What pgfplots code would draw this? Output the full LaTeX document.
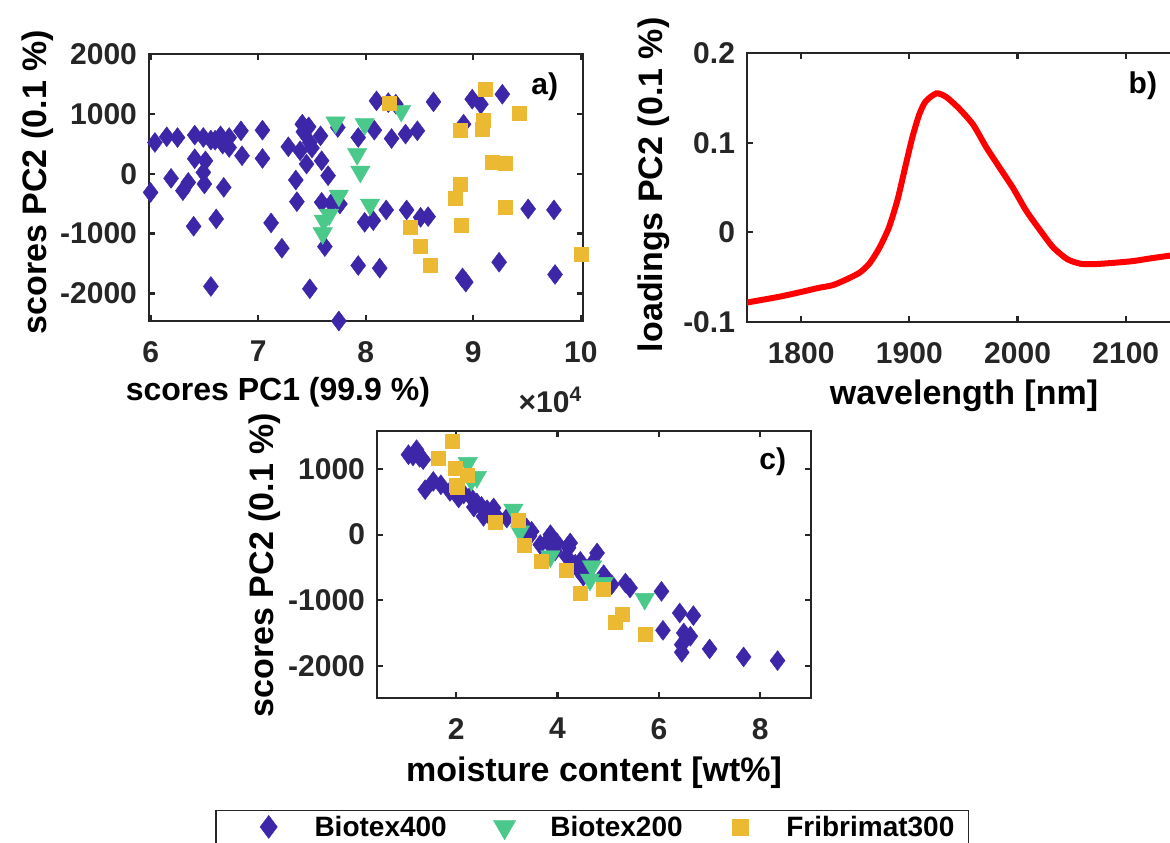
\documentclass[border=0pt]{standalone}
\usepackage{fontspec}
\setmainfont{Liberation Sans}
\usepackage{pgfplots}
\pgfplotsset{compat=1.18}
\definecolor{cA}{RGB}{62,38,168}
\definecolor{cB}{RGB}{74,201,138}
\definecolor{cC}{RGB}{236,185,50}
\definecolor{ax}{RGB}{38,38,38}
\pgfplotsset{
  common/.style={
    scale only axis, width=217pt, height=133.5pt,
    axis line style={ax, line width=1.1pt},
    every tick/.style={ax, line width=1.1pt},
    tick align=inside, major tick length=3pt,
    tick label style={font=\fontsize{15}{15}\selectfont\bfseries, text=ax},
    xticklabel style={yshift=-6.5pt},
    yticklabel style={xshift=-2.5pt},
    label style={font=\fontsize{17}{17}\selectfont\bfseries, text=black},
    /pgf/number format/assume math mode=true,
    /pgf/number format/1000 sep={},
    scaled ticks=false,
  },
  sA/.style={only marks, mark=diamond*, mark size=5pt, color=cA, mark options={draw=cA, fill=cA, line width=0.2pt}},
  sB/.style={only marks, mark=triangle*, mark size=5.6pt, color=cB, mark options={rotate=180, draw=cB, fill=cB, line width=0.2pt}},
  sC/.style={only marks, mark=square*, mark size=3.5pt, color=cC, mark options={draw=cC, fill=cC, line width=0.2pt}},
}
\begin{document}
\begin{tikzpicture}
\useasboundingbox (0,0) rectangle (585pt,421pt);
% ---------- panel a
\begin{axis}[common, at={(74.5pt,260.5pt)}, anchor=south west,
  xmin=5.985, xmax=10.02, ymin=-2460, ymax=2000,
  xtick={6,7,8,9,10}, ytick={-2000,-1000,0,1000,2000},
  clip=false,
  xlabel={scores PC1 (99.9 \%)},
  xlabel style={at={(axis description cs:0.297,-0.266)}, anchor=center, font=\fontsize{16}{16}\selectfont\bfseries},
  ylabel={scores PC2 (0.1 \%)},
  ylabel style={at={(axis description cs:-0.256,0.52)}, anchor=center},
]
\addplot[sA] coordinates {(6.04,522)(6.15,617)(6.25,605)(6.41,645)(6.49,605)(6.56,562)(6.65,633)(6.73,605)(6.84,717)(7.04,728)(6.67,495)(6.73,438)(6.60,560)(6.85,300)(7.04,255)(6.41,250)(6.51,215)(6.49,22)(6.50,-172)(6.19,-78)(6.30,-283)(6.35,-145)(6.68,-228)(6.00,-312)(6.40,-878)(6.61,-755)(6.56,-1883)(7.12,-822)(7.22,-1245)(7.48,-1922)(7.75,-2460)(7.62,-1217)(7.93,-1533)(8.13,-1578)(7.36,-467)(7.35,-105)(7.41,828)(7.47,783)(7.28,450)(7.39,383)(7.48,522)(7.58,633)(7.45,162)(7.59,217)(7.65,-33)(7.59,-478)(7.68,-495)(7.76,-505)(7.74,772)(7.93,605)(8.08,728)(8.24,588)(8.37,662)(8.48,717)(8.10,1217)(8.21,1188)(8.28,1162)(8.63,1200)(7.99,-812)(8.07,-783)(8.19,-605)(8.38,-605)(8.51,-728)(8.58,-717)(8.99,1245)(9.07,1162)(9.27,1328)(8.91,828)(9.51,-588)(9.75,-605)(9.24,-1478)(8.90,-1740)(8.93,-1810)(9.76,-1683)(7.42,700)(7.50,430)};
\addplot[sB] coordinates {(7.72,855)(7.99,828)(8.33,1050)(7.92,328)(7.95,33)(7.75,-367)(8.04,-517)(7.66,-683)(7.61,-783)(7.60,-995)};
\addplot[sC] coordinates {(9.11,1412)(8.22,1172)(9.43,1005)(8.88,733)(9.09,900)(9.08,745)(9.18,200)(9.30,178)(8.88,-183)(8.83,-412)(9.30,-562)(8.89,-855)(8.41,-895)(8.51,-1217)(8.60,-1533)(10.0,-1350)};
\node[font=\fontsize{15}{15}\selectfont\bfseries] at (axis description cs:0.912,0.876) {a)};
\node[font=\fontsize{15}{15}\selectfont\bfseries, text=ax] at (axis description cs:0.925,-0.296) {×10\textsuperscript{4}};
\end{axis}
% ---------- panel b
\begin{axis}[common, at={(373.5pt,260pt)}, anchor=south west, height=134.5pt,
  xmin=1750, xmax=2151, ymin=-0.1, ymax=0.2,
  xtick={1800,1900,2000,2100}, ytick={-0.1,0,0.1,0.2},
  xlabel={wavelength [nm]},
  xlabel style={at={(axis description cs:0.5,-0.275)}, anchor=center},
  ylabel={loadings PC2 (0.1 \%)},
  ylabel style={at={(axis description cs:-0.215,0.51)}, anchor=center},
]
\addplot[red, line width=3pt, smooth, tension=0.4] coordinates {(1749,-0.0785)(1779,-0.072)(1800,-0.0665)(1816,-0.062)(1829,-0.059)(1841,-0.053)(1854,-0.045)(1863,-0.035)(1872,-0.018)(1881,0.005)(1889,0.036)(1897,0.077)(1903,0.107)(1909,0.131)(1915,0.146)(1925,0.155)(1934,0.151)(1946,0.138)(1959,0.120)(1971,0.095)(1984,0.071)(1996,0.049)(2008,0.024)(2021,0.002)(2033,-0.017)(2046,-0.030)(2058,-0.035)(2070,-0.0355)(2089,-0.034)(2107,-0.032)(2123,-0.029)(2141,-0.026)(2151,-0.025)};
\node[font=\fontsize{15}{15}\selectfont\bfseries] at (axis description cs:0.912,0.877) {b)};
\end{axis}
% ---------- panel c
\begin{axis}[common, at={(188.5pt,72pt)}, anchor=south west,
  xmin=0.44, xmax=9.0, ymin=-2490, ymax=1580,
  xtick={2,4,6,8}, ytick={-2000,-1000,0,1000},
  clip=false,
  xlabel={moisture content [wt\%]},
  xlabel style={at={(axis description cs:0.5,-0.281)}, anchor=center},
  ylabel={scores PC2 (0.1 \%)},
  ylabel style={at={(axis description cs:-0.258,0.498)}, anchor=center},
  legend columns=3,
  legend cell align=left,
  legend style={at={(-0.373,-0.418)}, anchor=north west, draw=ax, line width=0.8pt,
    inner xsep=0pt, inner ysep=2.5pt, font=\fontsize{14}{14}\selectfont\bfseries,
    nodes={inner sep=0pt, text height=10pt, text depth=0pt},
    /tikz/every even column/.append style={column sep=2.5pt}},
  legend image code/.code={\path (-26pt,0pt) (22.5pt,0pt); \draw[#1, /tikz/every mark/.append style={scale=1.15}] plot coordinates {(0pt,0pt)};},
]
\addplot[sA] coordinates {(1.06,1219)(1.22,1295)(1.35,1143)(1.15,1200)(1.28,1180)(1.39,686)(1.55,812)(1.70,760)(1.88,660)(2.05,559)(2.15,620)(2.28,584)(2.41,483)(2.35,420)(2.50,430)(2.61,381)(2.74,407)(2.54,279)(2.65,300)(2.80,280)(3.00,254)(3.39,102)(3.49,50)(3.45,-20)(3.86,0)(3.66,-152)(3.80,-100)(3.99,-127)(3.95,-250)(4.25,-127)(4.18,-330)(4.22,-200)(4.41,-533)(4.51,-635)(4.45,-406)(4.35,-450)(4.60,-560)(4.78,-279)(4.70,-420)(4.91,-610)(5.07,-762)(5.34,-737)(5.43,-813)(6.05,-864)(6.41,-1194)(6.68,-1234)(6.08,-1458)(6.49,-1498)(6.62,-1549)(6.45,-1676)(6.45,-1793)(7.00,-1742)(7.67,-1864)(8.34,-1920)};
\addplot[sB] coordinates {(2.23,1092)(2.41,879)(2.30,830)(3.13,381)(3.26,50)(3.86,-330)(4.68,-483)(4.64,-686)(4.91,-737)(5.72,-980)};
\addplot[sC] coordinates {(1.92,1422)(1.65,1169)(1.98,1016)(2.21,899)(2.01,747)(2.03,720)(2.77,188)(3.22,218)(3.34,-168)(3.68,-406)(4.17,-549)(4.45,-889)(4.91,-838)(5.27,-1219)(5.14,-1336)(5.73,-1524)};
\legend{Biotex400, Biotex200, Fribrimat300\hspace*{7pt}}
\node[font=\fontsize{15}{15}\selectfont\bfseries] at (axis description cs:0.912,0.884) {c)};
\end{axis}
\end{tikzpicture}
\end{document}
